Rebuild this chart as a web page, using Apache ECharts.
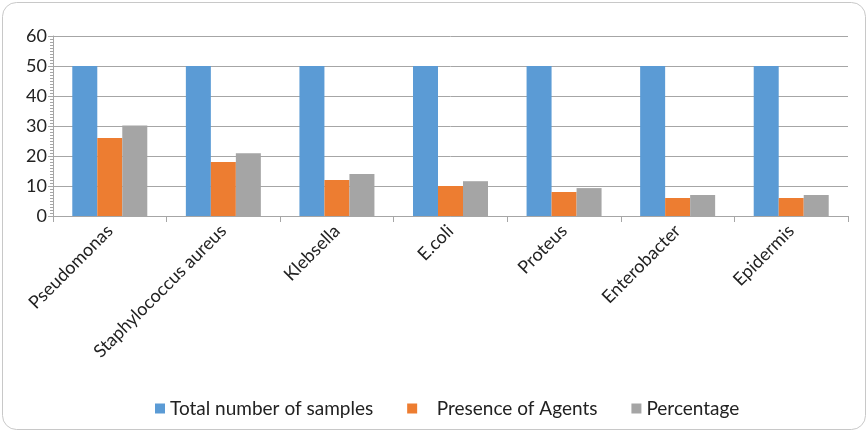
<!DOCTYPE html>
<html>
<head>
<meta charset="utf-8">
<script src="https://cdn.jsdelivr.net/npm/echarts@6/dist/echarts.min.js"></script>
<style>
  html, body { margin: 0; padding: 0; background: #fff; }
  #charts { width: 868px; height: 432px; }
</style>
</head>
<body>
<div id="charts"></div>
<script>
// 数据
var categories = ['Pseudomonas', 'Staphylococcus aureus', 'Klebsella', 'E.coli', 'Proteus', 'Enterobacter', 'Epidermis'];
var totalSamples = [50, 50, 50, 50, 50, 50, 50];
var presenceAgents = [26, 18, 12, 10, 8, 6, 6];
var percentage = [30.2, 20.9, 14, 11.6, 9.3, 7, 7];
var yTicks = [0, 10, 20, 30, 40, 50, 60];

var myChart = echarts.init(document.getElementById('charts'));
var font = 'Lato, "Open Sans", sans-serif';

var option = {
    animation: false,
    textStyle: { fontFamily: font },
    graphic: [{
        type: 'rect',
        shape: { x: 2.5, y: 2.5, width: 863, height: 427, r: 14 },
        style: { fill: 'none', stroke: '#c8c8c8', lineWidth: 1 },
        silent: true
    }],
    grid: { left: 53, right: 20, top: 36, bottom: 216 },
    legend: {
        bottom: 9,
        left: 150,
        itemWidth: 10,
        itemHeight: 10,
        itemGap: 34,
        icon: 'rect',
        textStyle: { fontSize: 19, color: '#222', fontFamily: font },
        formatter: function (name) {
            return name === 'Presence of Agents' ? '   ' + name : name; // 原图此项前有空格
        },
        data: ['Total number of samples', 'Presence of Agents', 'Percentage']
    },
    xAxis: {
        type: 'category',
        data: categories,
        axisLine: { lineStyle: { color: '#a6a6a6' } },
        axisTick: { show: true, alignWithLabel: false, length: 6, lineStyle: { color: '#a6a6a6' } },
        axisLabel: { rotate: 45, fontSize: 18, color: '#222', margin: 12, fontFamily: font }
    },
    yAxis: {
        type: 'value',
        min: yTicks[0],
        max: yTicks[yTicks.length - 1],
        interval: 10,
        axisLine: { show: true, lineStyle: { color: '#a6a6a6' } },
        axisTick: { show: true, length: 5, lineStyle: { color: '#a6a6a6' } },
        minorTick: { show: true, splitNumber: 10, length: 3, lineStyle: { color: '#a6a6a6' } },
        splitLine: { lineStyle: { color: '#a6a6a6' } },
        axisLabel: { fontSize: 18, color: '#222', margin: 6, fontFamily: font }
    },
    series: [
        {
            name: 'Total number of samples', type: 'bar', data: totalSamples,
            barWidth: 25, barGap: '0%',
            itemStyle: { color: '#5B9BD5' }
        },
        {
            name: 'Presence of Agents', type: 'bar', data: presenceAgents,
            barWidth: 25, barGap: '0%',
            itemStyle: { color: '#ED7D31' }
        },
        {
            name: 'Percentage', type: 'bar', data: percentage,
            barWidth: 25, barGap: '0%',
            itemStyle: { color: '#A5A5A5' }
        }
    ]
};
myChart.setOption(option);
</script>
</body>
</html>
